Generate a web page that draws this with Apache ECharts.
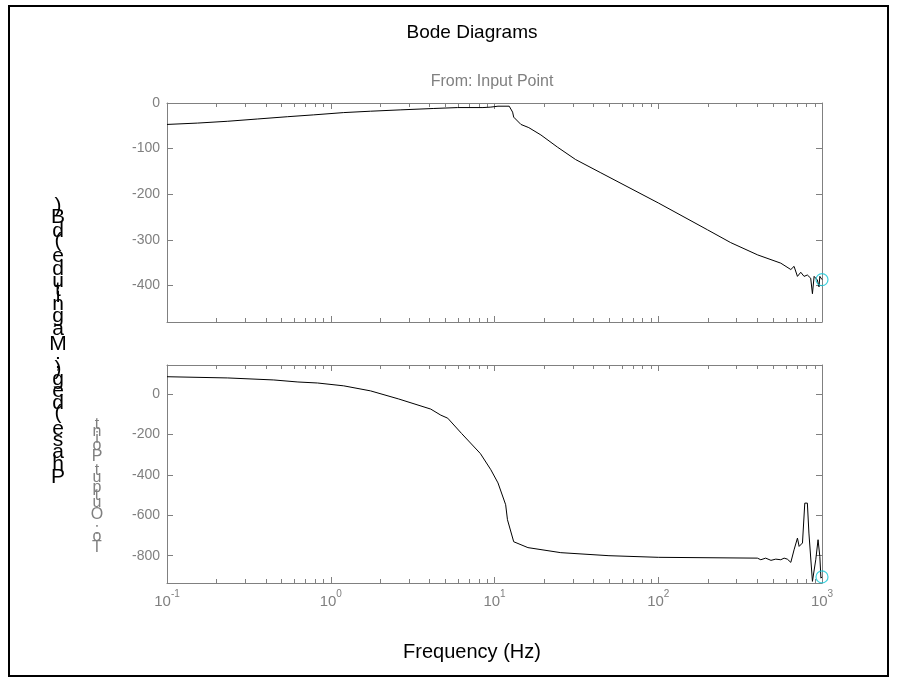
<!DOCTYPE html>
<html>
<head>
<meta charset="utf-8">
<title>Bode Diagrams</title>
<script src="https://cdn.jsdelivr.net/npm/echarts@6/dist/echarts.min.js"></script>
<style>
  html, body { margin: 0; padding: 0; background: #ffffff; }
  #chart { width: 899px; height: 683px; }
</style>
</head>
<body>
<div id="chart"></div>
<script>
// Magnitude response (dB) against frequency (Hz)
const magFreq = [0.1, 0.154, 0.235, 0.358, 0.546, 0.787, 1.2, 1.75, 2.68, 4.26, 5.96, 8.5, 9.5, 9.7, 10.5, 12.3,
  12.9, 13.1, 14.5, 16.2, 19.2, 24.3, 31.3, 44.6, 100, 200, 277, 405, 560, 645, 675, 708, 742, 777, 814, 853, 874,
  895, 916, 937, 959, 970, 985, 1000];
const magDb = [-47, -44, -40, -35, -30, -26, -21, -18, -15, -12, -10, -10, -9, -11, -7, -7,
  -20, -31, -47, -54, -70, -97, -124, -153, -219, -278, -306, -333, -351, -365, -358, -380, -371, -380, -377, -384, -418,
  -380, -377, -388, -403, -380, -384, -387];

// Phase response (deg) against frequency (Hz)
const phaseFreq = [0.1, 0.235, 0.449, 0.63, 0.83, 1.2, 1.75, 2.6, 4.08, 4.7, 5.18, 6.3, 8.2, 9.5, 10.5, 11.7, 12.0,
  13.1, 16, 25.4, 50, 100, 403, 423, 453, 488, 522, 560, 587, 614, 645, 675, 708, 725, 760, 785, 814, 832, 874,
  916, 946, 970, 985, 1000];
const phaseDeg = [85, 79, 69, 59, 54, 40, 15, -25, -75, -105, -120, -196, -295, -375, -440, -548, -622,
  -731, -760, -785, -800, -808, -812, -820, -812, -823, -817, -820, -812, -817, -833, -771, -713, -754, -737, -540, -540, -688, -927,
  -820, -721, -804, -911, -905];

// Tick values
const magTicks = [0, -100, -200, -300, -400];
const phaseTicks = [0, -200, -400, -600, -800];
const minorFreqs = [];
[0.1, 1, 10, 100].forEach(function (d) {
  for (let k = 2; k <= 9; k++) minorFreqs.push(+(d * k).toPrecision(3));
});

const GRAY = '#808080';
const chart = echarts.init(document.getElementById('chart'), null, { renderer: 'canvas' });

const pairs = (xs, ys) => xs.map((x, i) => [x, ys[i]]);

function xAxisCfg(grid, pos, labels) {
  return {
    type: 'log', logBase: 10, gridIndex: grid, position: pos, min: 0.1, max: 1000,
    axisLine: { show: true, onZero: false, lineStyle: { color: GRAY, width: 1 } },
    axisTick: { show: true, inside: true, length: 6, lineStyle: { color: GRAY } },
    splitLine: { show: false },
    axisLabel: labels ? {
      show: true, margin: 6,
      formatter: function (v) {
        const e = Math.round(Math.log10(v));
        return '{b|10}{s|' + e + '}';
      },
      rich: {
        b: { fontFamily: 'Liberation Sans, Arial', fontSize: 15, color: GRAY, lineHeight: 20, verticalAlign: 'bottom' },
        s: { fontFamily: 'Liberation Sans, Arial', fontSize: 10, color: GRAY, lineHeight: 10, verticalAlign: 'top' }
      }
    } : { show: false }
  };
}

function yAxisCfg(grid, pos, min, max, ticks, labels) {
  return {
    type: 'value', gridIndex: grid, position: pos, min: min, max: max,
    axisLine: { show: true, onZero: false, lineStyle: { color: GRAY, width: 1 } },
    axisTick: { show: true, inside: true, length: 6, customValues: ticks, lineStyle: { color: GRAY } },
    splitLine: { show: false },
    axisLabel: labels ? {
      show: true, customValues: ticks, margin: 7, color: GRAY,
      fontFamily: 'Liberation Sans, Arial', fontSize: 14
    } : { show: false }
  };
}

function minorTickSeries(xi, yi) {
  return {
    type: 'custom', xAxisIndex: xi, yAxisIndex: yi, silent: true, clip: false, z: 3,
    data: minorFreqs.map(f => [f, 0]),
    renderItem: function (params, api) {
      const x = Math.round(api.coord([api.value(0), api.value(1)])[0]) + 0.5;
      const cs = params.coordSys;
      const st = { stroke: GRAY, lineWidth: 1 };
      return {
        type: 'group', children: [
          { type: 'line', shape: { x1: x, y1: cs.y, x2: x, y2: cs.y + 4 }, style: st },
          { type: 'line', shape: { x1: x, y1: cs.y + cs.height - 4, x2: x, y2: cs.y + cs.height }, style: st }
        ]
      };
    }
  };
}

// Characters stacked bottom-to-top, each glyph upright
function stackedText(str, font, cx, yBottom, yTop, color) {
  const ctx = document.createElement('canvas').getContext('2d');
  ctx.font = font;
  const widths = Array.from(str).map(c => ctx.measureText(c).width);
  const total = widths.reduce((a, b) => a + b, 0);
  const k = (yBottom - yTop) / total;
  const out = [];
  let y = yBottom;
  Array.from(str).forEach(function (c, i) {
    const h = widths[i] * k;
    if (c !== ' ') {
      out.push({
        type: 'text', silent: true,
        style: { text: c, x: cx, y: y - h / 2, font: font, fill: color, align: 'center', verticalAlign: 'middle' }
      });
    }
    y -= h;
  });
  return out;
}

const endMarker = {
  symbol: 'circle', symbolSize: 12,
  itemStyle: { color: 'rgba(0,0,0,0)', borderColor: '#12c6d6', borderWidth: 1.2 }
};

const option = {
  animation: false,
  backgroundColor: '#ffffff',
  grid: [
    { left: 167, top: 103, width: 655, height: 219 },
    { left: 167, top: 365, width: 655, height: 218 }
  ],
  xAxis: [
    xAxisCfg(0, 'bottom', false),
    xAxisCfg(0, 'top', false),
    xAxisCfg(1, 'bottom', true),
    xAxisCfg(1, 'top', false)
  ],
  yAxis: [
    yAxisCfg(0, 'left', -480, 0, magTicks, true),
    yAxisCfg(0, 'right', -480, 0, magTicks, false),
    yAxisCfg(1, 'left', -935, 143, phaseTicks, true),
    yAxisCfg(1, 'right', -935, 143, phaseTicks, false)
  ],
  series: [
    {
      type: 'line', xAxisIndex: 0, yAxisIndex: 0, showSymbol: false, z: 5,
      lineStyle: { color: '#000000', width: 1 },
      data: pairs(magFreq, magDb)
    },
    Object.assign({
      type: 'scatter', xAxisIndex: 0, yAxisIndex: 0, z: 6,
      data: [[magFreq[magFreq.length - 1], magDb[magDb.length - 1]]]
    }, endMarker),
    {
      type: 'line', xAxisIndex: 2, yAxisIndex: 2, showSymbol: false, z: 5,
      lineStyle: { color: '#000000', width: 1 },
      data: pairs(phaseFreq, phaseDeg)
    },
    Object.assign({
      type: 'scatter', xAxisIndex: 2, yAxisIndex: 2, z: 6,
      data: [[phaseFreq[phaseFreq.length - 1], phaseDeg[phaseDeg.length - 1]]]
    }, endMarker),
    minorTickSeries(0, 0),
    minorTickSeries(2, 2)
  ],
  graphic: [
    {
      type: 'rect', silent: true, z: 10,
      shape: { x: 9, y: 6, width: 879, height: 670 },
      style: { fill: 'none', stroke: '#000000', lineWidth: 2 }
    },
    {
      type: 'text', silent: true,
      style: { text: 'Bode Diagrams', x: 472, y: 33, font: '19px "Liberation Sans", Arial', fill: '#000000', align: 'center', verticalAlign: 'middle' }
    },
    {
      type: 'text', silent: true,
      style: { text: 'From: Input Point', x: 492, y: 82, font: '16px "Liberation Sans", Arial', fill: GRAY, align: 'center', verticalAlign: 'middle' }
    },
    {
      type: 'text', silent: true,
      style: { text: 'Frequency (Hz)', x: 472, y: 652, font: '20px "Liberation Sans", Arial', fill: '#000000', align: 'center', verticalAlign: 'middle' }
    }
  ].concat(
    stackedText('Phase (deg); Magnitude (dB)', '21px "Liberation Sans", Arial', 58, 485, 203, '#000000'),
    stackedText('To: Output Point', '16px "Liberation Sans", Arial', 97, 553, 422, GRAY)
  )
};

chart.setOption(option);
</script>
</body>
</html>
